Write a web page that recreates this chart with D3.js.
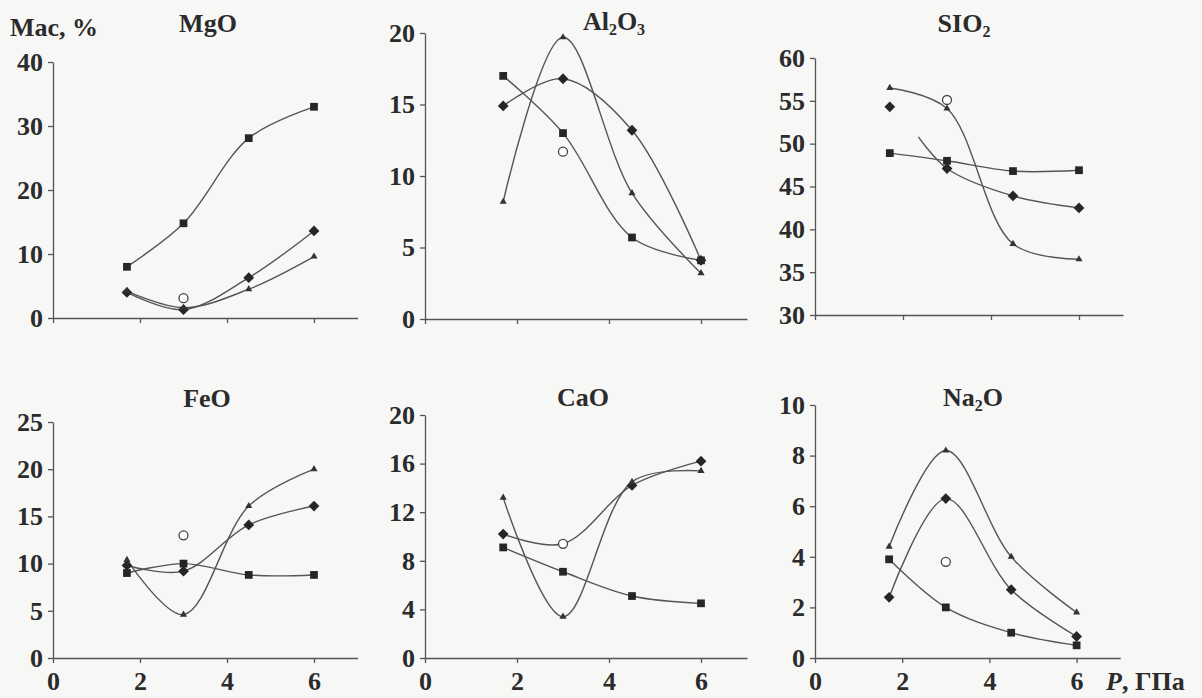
<!DOCTYPE html>
<meta charset="utf-8">
<style>
body { margin: 0; background: #f7f7f6; }
svg { display: block; }
.axis path, .axis line { stroke: #555; stroke-width: 1.3; }
.axis text { font: bold 26px "Liberation Serif", serif; fill: #2b2b2b; }
.title, .label { font: bold 26px "Liberation Serif", serif; fill: #2b2b2b; }
.curve { fill: none; stroke: #555; stroke-width: 1.4; }
</style>
<body>
<svg width="1202" height="698"></svg>
<script src="https://cdn.jsdelivr.net/npm/d3@7"></script>
<script>

// pressure, GPa
var pressure = [1.7, 3, 4.5, 6];
var xTicks = [0, 2, 4, 6];

// MgO
var mgoSquare   = [8.0, 14.8, 28.1, 33.0];
var mgoDiamond  = [4.0, 1.3, 6.3, 13.6];
var mgoTriangle = [4.2, 1.6, 4.5, 9.6];
var mgoCircle   = 3.1;
var mgoTicks    = [0, 10, 20, 30, 40];

// Al2O3
var alSquare   = [17.0, 13.0, 5.7, 4.1];
var alDiamond  = [14.9, 16.8, 13.2, 4.1];
var alTriangle = [8.2, 19.7, 8.8, 3.2];
var alCircle   = 11.7;
var alTicks    = [0, 5, 10, 15, 20];

// SiO2
var siSquare   = [48.9, 48.0, 46.8, 46.9];
var siDiamond  = [54.3, 47.1, 43.9, 42.5];
var siTriangle = [56.5, 54.1, 38.3, 36.5];
var siCircle   = 55.1;
var siTicks    = [30, 35, 40, 45, 50, 55, 60];
// the diamond curve in SiO2 starts between the first two points
var siDiamondLine = [[2.35, 50.8], [3, 47.1], [4.5, 43.9], [6, 42.5]];

// FeO
var feSquare   = [9.0, 10.0, 8.8, 8.8];
var feDiamond  = [9.8, 9.2, 14.1, 16.1];
var feTriangle = [10.4, 4.6, 16.1, 20.0];
var feCircle   = 13.0;
var feTicks    = [0, 5, 10, 15, 20, 25];

// CaO
var caSquare   = [9.1, 7.1, 5.1, 4.5];
var caDiamond  = [10.2, 9.4, 14.2, 16.2];
var caTriangle = [13.2, 3.4, 14.5, 15.4];
var caCircle   = 9.4;
var caTicks    = [0, 4, 8, 12, 16, 20];

// Na2O
var naSquare   = [3.9, 2.0, 1.0, 0.5];
var naDiamond  = [2.4, 6.3, 2.7, 0.85];
var naTriangle = [4.4, 8.2, 4.0, 1.8];
var naCircle   = 3.8;
var naTicks    = [0, 2, 4, 6, 8, 10];

function pts(vals) { return vals.map(function(v, i) { return [pressure[i], v]; }); }

var panels = [
  { name: ["MgO"], sq: mgoSquare, dm: mgoDiamond, tr: mgoTriangle, ci: mgoCircle, ticks: mgoTicks,
    x0: 53, unit: 43.5, yb: 318, yt: 62, tx: 208, ty: 32, bottom: false },
  { name: ["Al", "2", "O", "3"], sq: alSquare, dm: alDiamond, tr: alTriangle, ci: alCircle, ticks: alTicks,
    x0: 425, unit: 46, yb: 319, yt: 33, tx: 614, ty: 30, bottom: false },
  { name: ["SIO", "2"], sq: siSquare, dm: siDiamond, tr: siTriangle, ci: siCircle, ticks: siTicks,
    dmLine: siDiamondLine, x0: 815, unit: 44, yb: 315, yt: 58, tx: 964, ty: 32, bottom: false },
  { name: ["FeO"], sq: feSquare, dm: feDiamond, tr: feTriangle, ci: feCircle, ticks: feTicks,
    x0: 53, unit: 43.5, yb: 658, yt: 422, tx: 207, ty: 407, bottom: true },
  { name: ["CaO"], sq: caSquare, dm: caDiamond, tr: caTriangle, ci: caCircle, ticks: caTicks,
    x0: 425, unit: 46, yb: 658, yt: 415, tx: 583, ty: 406, bottom: true },
  { name: ["Na", "2", "O"], sq: naSquare, dm: naDiamond, tr: naTriangle, ci: naCircle, ticks: naTicks,
    x0: 815, unit: 43.6, yb: 658, yt: 405, tx: 973, ty: 406, bottom: true }
];

var svg = d3.select("svg");

panels.forEach(function(p) {
  var x = d3.scaleLinear().domain([0, 7]).range([p.x0, p.x0 + 7 * p.unit]);
  var y = d3.scaleLinear()
      .domain([p.ticks[0], p.ticks[p.ticks.length - 1]])
      .range([p.yb, p.yt]);

  var g = svg.append("g");

  g.append("g")
      .attr("class", "axis")
      .attr("transform", "translate(" + p.x0 + ",0)")
      .call(d3.axisLeft(y).tickValues(p.ticks).tickSize(5).tickPadding(5).tickSizeOuter(0));

  g.append("g")
      .attr("class", "axis")
      .attr("transform", "translate(0," + p.yb + ")")
      .call(d3.axisBottom(x).tickValues(xTicks).tickSize(5).tickPadding(9).tickSizeOuter(0)
        .tickFormat(p.bottom ? d3.format("d") : function() { return ""; }));

  g.selectAll(".axis .domain").attr("fill", "none");

  var line = d3.line()
      .x(function(d) { return x(d[0]); })
      .y(function(d) { return y(d[1]); })
      .curve(d3.curveCatmullRom.alpha(0.5));

  [p.sq, p.tr].forEach(function(s) {
    g.append("path").attr("class", "curve").attr("d", line(pts(s)));
  });
  g.append("path").attr("class", "curve").attr("d", line(p.dmLine || pts(p.dm)));

  // markers
  g.selectAll(".sq").data(pts(p.sq)).enter().append("path")
      .attr("d", d3.symbol().type(d3.symbolSquare).size(60))
      .attr("transform", function(d) { return "translate(" + x(d[0]) + "," + y(d[1]) + ")"; })
      .attr("fill", "#262626");

  g.selectAll(".dm").data(pts(p.dm).filter(function(d) {
        return !(d[0] === 3 && Math.abs(d[1] - p.ci) < 0.3);
      })).enter().append("path")
      .attr("d", d3.symbol().type(d3.symbolSquare).size(58))
      .attr("transform", function(d) { return "translate(" + x(d[0]) + "," + y(d[1]) + ") rotate(45)"; })
      .attr("fill", "#262626");

  g.selectAll(".tr").data(pts(p.tr)).enter().append("path")
      .attr("d", d3.symbol().type(d3.symbolTriangle).size(22))
      .attr("transform", function(d) { return "translate(" + x(d[0]) + "," + y(d[1]) + ")"; })
      .attr("fill", "#333");

  g.append("circle")
      .attr("cx", x(3))
      .attr("cy", y(p.ci))
      .attr("r", 4.5)
      .attr("fill", "#fff")
      .attr("stroke", "#444")
      .attr("stroke-width", 1.3);

  // title with subscripts
  var t = g.append("text")
      .attr("class", "title")
      .attr("x", p.tx)
      .attr("y", p.ty)
      .attr("text-anchor", "middle");
  p.name.forEach(function(part) {
    if (/^\d$/.test(part)) {
      t.append("tspan").attr("font-size", 16).attr("dy", 5).text(part);
    } else {
      var ts = t.append("tspan").text(part);
      if (t.selectAll("tspan").size() > 1) ts.attr("dy", -5);
    }
  });
});

svg.append("text")
    .attr("class", "label")
    .attr("x", 10)
    .attr("y", 36)
    .text("Мас, %");

var pl = svg.append("text")
    .attr("class", "label")
    .attr("x", 1106)
    .attr("y", 690)
    .attr("font-size", 25);
pl.append("tspan").attr("font-style", "italic").text("P");
pl.append("tspan").text(", ГПа");

</script>
